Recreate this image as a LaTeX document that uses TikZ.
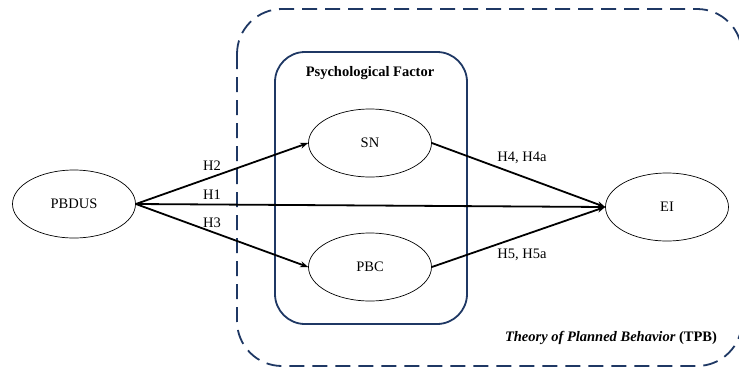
\documentclass[tikz,border=0pt]{standalone}
\usepackage{fontspec}
\setmainfont{Liberation Serif}
\usetikzlibrary{arrows.meta,shapes.geometric}
\definecolor{navy}{HTML}{1F3864}
\begin{document}
\begin{tikzpicture}[x=1pt,y=-1pt,
  ell/.style={draw,ellipse,line width=0.7pt,minimum width=123pt,minimum height=68pt,inner sep=0pt,font=\fontsize{14.5}{16}\selectfont},
  arr/.style={line width=1.8pt,-{Stealth[length=8pt,width=6pt]}},
  lbl/.style={font=\fontsize{14.5}{16}\selectfont,inner sep=0pt}]
\useasboundingbox (0,0) rectangle (739,367);
\draw[navy,line width=1.8pt,dash pattern=on 15pt off 8pt,rounded corners=45pt] (237,9) rectangle (742,366);
\draw[navy,line width=1.8pt,rounded corners=30pt] (275,52) rectangle (467,324);
\node[lbl,font=\fontsize{14.5}{16}\selectfont\bfseries] (pf) at (370,73) {Psychological Factor};
\node[ell] (pbdus) at (74,204) {PBDUS};
\node[ell] (sn) at (370,143) {SN};
\node[ell] (pbc) at (370,267) {PBC};
\node[ell] (ei) at (667,207) {EI};
\coordinate (eiw) at (ei.west);
\draw[arr] (pbdus.east) -- (sn.west);
\draw[arr] (pbdus.east) -- (eiw);
\draw[arr] (pbdus.east) -- (pbc.west);
\draw[arr] (sn.east) -- (eiw);
\draw[arr] (pbc.east) -- (eiw);
\node[lbl] (h2) at (212,166) {H2};
\node[lbl] (h1) at (212,195) {H1};
\node[lbl] (h3) at (212,223) {H3};
\node[lbl] (h4) at (522,158) {H4, H4a};
\node[lbl] (h5) at (522,255) {H5, H5a};
\node[lbl] (tpb) at (611,338) {\textbf{\textit{Theory of Planned Behavior}} \textbf{(TPB)}};
\end{tikzpicture}
\end{document}
